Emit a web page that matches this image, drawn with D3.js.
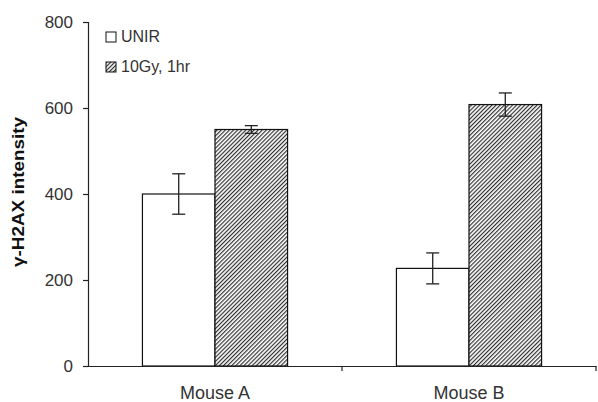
<!DOCTYPE html>
<html>
<head>
<meta charset="utf-8">
<script src="https://cdn.jsdelivr.net/npm/d3@7"></script>
<style>
  html, body { margin: 0; padding: 0; background: #fff; }
  svg { display: block; font-family: "Liberation Sans", Arial, sans-serif; }
  .tick text { fill: #333; }
</style>
</head>
<body>
<div id="chart"></div>
<script>
const WIDTH = 598;
const HEIGHT = 402;
const MARGIN = { top: 22, right: 2, bottom: 36, left: 88 };

const categories = ["Mouse A", "Mouse B"];
const seriesNames = ["UNIR", "10Gy, 1hr"];
const unirValues = [400, 227];
const unirErrors = [47, 36];
const irradValues = [550, 608];
const irradErrors = [9, 27];
const yTicks = [0, 200, 400, 600, 800];

const rows = categories.map((c, i) => ({
  category: c,
  bars: [
    { series: seriesNames[0], value: unirValues[i], err: unirErrors[i] },
    { series: seriesNames[1], value: irradValues[i], err: irradErrors[i] },
  ],
}));

const svg = d3.select("#chart").append("svg").attr("width", WIDTH).attr("height", HEIGHT);

// diagonal hatch for the irradiated bars
const step = 2.9;
const pattern = svg
  .append("defs")
  .append("pattern")
  .attr("id", "hatch")
  .attr("patternUnits", "userSpaceOnUse")
  .attr("width", step)
  .attr("height", step)
  .attr("patternTransform", "rotate(45)");
pattern.append("rect").attr("width", step).attr("height", step).attr("fill", "#fff");
pattern
  .append("line")
  .attr("x1", 0.6)
  .attr("y1", 0)
  .attr("x2", 0.6)
  .attr("y2", step)
  .attr("stroke", "#2a2a2a")
  .attr("stroke-width", 1.15);

const fills = { UNIR: "#fff", "10Gy, 1hr": "url(#hatch)" };

const x = d3.scaleBand().domain(categories).range([MARGIN.left, WIDTH - MARGIN.right]).padding(0);
const xInner = d3.scaleBand().domain(seriesNames).range([0, x.bandwidth()]).paddingInner(0).paddingOuter(0.75);
const y = d3.scaleLinear().domain([0, 800]).range([HEIGHT - MARGIN.bottom, MARGIN.top]);

// bars
const groups = svg
  .append("g")
  .selectAll("g")
  .data(rows)
  .join("g")
  .attr("transform", (d) => `translate(${x(d.category)},0)`);

groups
  .selectAll("rect")
  .data((d) => d.bars)
  .join("rect")
  .attr("x", (d) => xInner(d.series))
  .attr("y", (d) => y(d.value))
  .attr("width", xInner.bandwidth())
  .attr("height", (d) => y(0) - y(d.value))
  .attr("fill", (d) => fills[d.series])
  .attr("stroke", "#111")
  .attr("stroke-width", 1.2);

// error bars
const err = groups
  .selectAll("g.err")
  .data((d) => d.bars)
  .join("g")
  .attr("class", "err")
  .attr("stroke", "#222")
  .attr("stroke-width", 1.3);
const cap = 6.5;
const mid = (d) => xInner(d.series) + xInner.bandwidth() / 2;
err
  .append("line")
  .attr("x1", mid)
  .attr("x2", mid)
  .attr("y1", (d) => y(d.value + d.err))
  .attr("y2", (d) => y(d.value - d.err));
[1, -1].forEach((sign) => {
  err
    .append("line")
    .attr("x1", (d) => mid(d) - cap)
    .attr("x2", (d) => mid(d) + cap)
    .attr("y1", (d) => y(d.value + sign * d.err))
    .attr("y2", (d) => y(d.value + sign * d.err));
});

// axes
const yAxis = svg
  .append("g")
  .attr("transform", `translate(${MARGIN.left},0)`)
  .call(d3.axisLeft(y).tickValues(yTicks).tickSize(5).tickPadding(10));
yAxis.selectAll(".tick text").attr("font-size", 17);
yAxis.select(".domain").attr("stroke", "#222").attr("stroke-width", 1.2);
yAxis.selectAll(".tick line").attr("stroke", "#222").attr("stroke-width", 1.2);

const xAxis = svg
  .append("g")
  .attr("transform", `translate(0,${y(0)})`)
  .call(d3.axisBottom(x).tickSize(0).tickPadding(20));
xAxis.selectAll(".tick text").attr("font-size", 18);
xAxis.select(".domain").attr("stroke", "#222").attr("stroke-width", 1.2);

// category boundary ticks
svg
  .append("g")
  .selectAll("line")
  .data(categories)
  .join("line")
  .attr("x1", (d) => x(d) + x.bandwidth())
  .attr("x2", (d) => x(d) + x.bandwidth())
  .attr("y1", y(0))
  .attr("y2", y(0) + 5)
  .attr("stroke", "#222")
  .attr("stroke-width", 1.2);

// y label
svg
  .append("text")
  .attr("transform", `translate(24,192) rotate(-90)`)
  .attr("text-anchor", "middle")
  .attr("font-size", 16)
  .attr("font-weight", "bold")
  .attr("fill", "#111")
  .attr("textLength", 150)
  .attr("lengthAdjust", "spacingAndGlyphs")
  .text("γ-H2AX intensity");

// legend
const legend = svg
  .append("g")
  .attr("transform", "translate(106,32)")
  .selectAll("g")
  .data(seriesNames)
  .join("g")
  .attr("transform", (d, i) => `translate(0,${i * 30})`);
legend
  .append("rect")
  .attr("width", 10)
  .attr("height", 10)
  .attr("fill", (d) => fills[d])
  .attr("stroke", "#111")
  .attr("stroke-width", 1);
legend
  .append("text")
  .attr("x", 15)
  .attr("y", 10)
  .attr("font-size", 16)
  .attr("fill", "#333")
  .text((d) => d);
</script>
</body>
</html>
